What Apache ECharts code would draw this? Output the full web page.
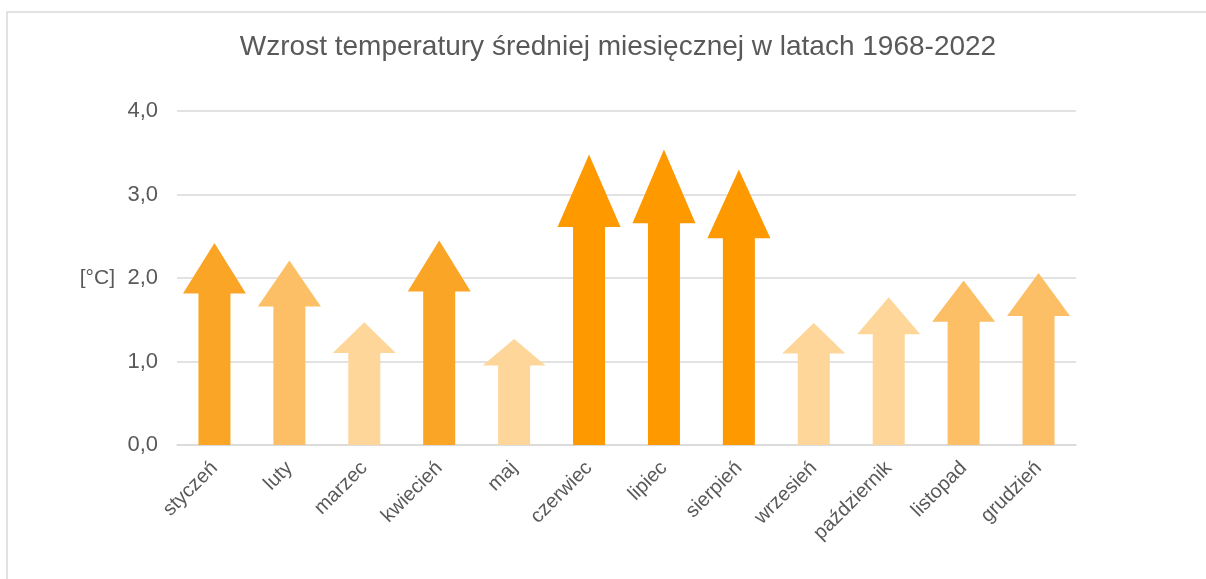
<!DOCTYPE html>
<html>
<head>
<meta charset="utf-8">
<script src="https://cdn.jsdelivr.net/npm/echarts@6/dist/echarts.min.js"></script>
<style>
  html, body { margin: 0; padding: 0; background: #fff; }
  #chart { width: 1206px; height: 579px; }
</style>
</head>
<body>
<div id="chart"></div>
<script>
// dane
const months = ['styczeń', 'luty', 'marzec', 'kwiecień', 'maj', 'czerwiec', 'lipiec', 'sierpień', 'wrzesień', 'październik', 'listopad', 'grudzień']
const tempRise = [2.42, 2.21, 1.47, 2.45, 1.27, 3.48, 3.54, 3.30, 1.46, 1.77, 1.97, 2.06]
const yTicks = [0, 1, 2, 3, 4]

// kolory strzałek
const arrowColors = ['#FBA526', '#FDBF66', '#FED699', '#FBA526', '#FED699', '#FF9900', '#FF9900', '#FF9900', '#FED699', '#FED699', '#FDBF66', '#FDBF66']

const textColor = '#595959'
const font = '"Liberation Sans", Arial, sans-serif'

const myChart = echarts.init(document.getElementById('chart'), null, { renderer: 'canvas' })

function renderArrow(params, api) {
  const i = api.value(0)
  const v = api.value(1)
  const base = api.coord([i, 0])
  const tip = api.coord([i, v])
  const cx = base[0]
  const len = base[1] - tip[1]
  const headH = len * 0.25
  const neckY = tip[1] + headH
  const shaft = 16
  const head = 31.5
  return {
    type: 'polygon',
    shape: {
      points: [
        [cx - shaft, base[1]],
        [cx - shaft, neckY],
        [cx - head, neckY],
        [cx, tip[1]],
        [cx + head, neckY],
        [cx + shaft, neckY],
        [cx + shaft, base[1]]
      ]
    },
    style: { fill: arrowColors[params.dataIndex] }
  }
}

const option = {
  backgroundColor: '#fff',
  animation: false,
  title: {
    text: 'Wzrost temperatury średniej miesięcznej w latach 1968-2022',
    left: 613,
    textAlign: 'center',
    top: 28,
    textStyle: { color: textColor, fontFamily: font, fontSize: 28, fontWeight: 'normal' }
  },
  graphic: [{
    type: 'rect',
    shape: { x: 7, y: 12, width: 1400, height: 800 },
    style: { fill: 'none', stroke: '#d9d9d9', lineWidth: 1.5 },
    silent: true,
    z: -1
  }],
  grid: { left: 177, right: 130, top: 111, bottom: 134 },
  xAxis: {
    type: 'category',
    data: months,
    axisLine: { show: true, lineStyle: { color: '#d9d9d9', width: 1.5 } },
    axisTick: { show: false },
    axisLabel: { rotate: 45, margin: 20, color: textColor, fontFamily: font, fontSize: 20, interval: 0 }
  },
  yAxis: {
    type: 'value',
    min: yTicks[0],
    max: yTicks[yTicks.length - 1],
    interval: 1,
    name: '[°C]',
    nameLocation: 'middle',
    nameRotate: 0,
    nameGap: 62,
    nameTextStyle: { color: textColor, fontFamily: font, fontSize: 21 },
    axisLine: { show: false },
    axisTick: { show: false },
    splitLine: { lineStyle: { color: '#d9d9d9', width: 1.5 } },
    axisLabel: {
      margin: 19,
      color: textColor,
      fontFamily: font,
      fontSize: 22,
      formatter: v => v.toFixed(1).replace('.', ',')
    }
  },
  series: [{
    type: 'custom',
    renderItem: renderArrow,
    encode: { x: 0, y: 1 },
    data: tempRise.map((v, i) => [i, v])
  }]
}

myChart.setOption(option)
window.addEventListener('resize', () => {
  myChart && myChart.resize()
})
</script>
</body>
</html>
